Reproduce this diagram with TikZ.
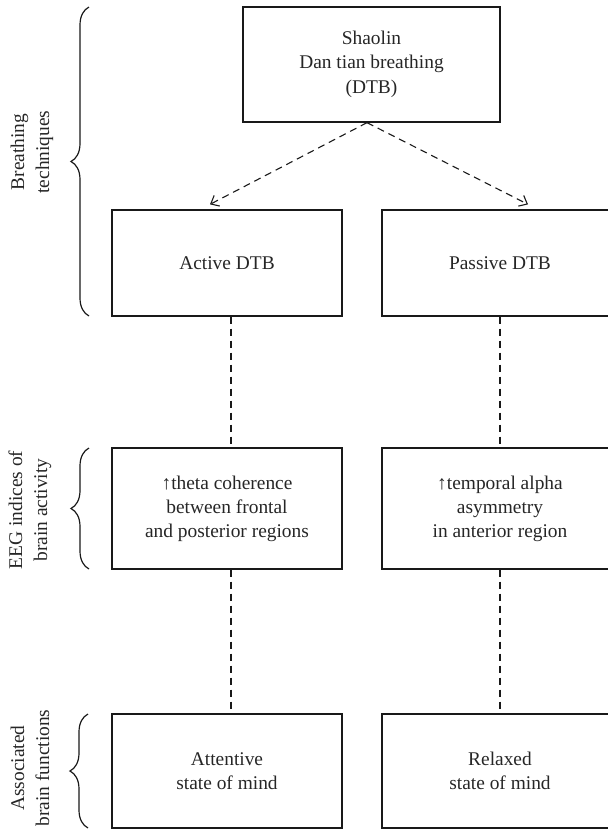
\documentclass[tikz,border=0pt]{standalone}
\usepackage{fontspec}
\setmainfont{Liberation Serif}
\usetikzlibrary{arrows.meta,decorations.pathreplacing}
\begin{document}
\begin{tikzpicture}[x=1pt,y=-1pt,
  box/.style={draw=black!90, line width=1.3pt, inner sep=0pt, align=center,
    font=\fontsize{19.4}{24}\selectfont, text=black!85},
  side/.style={rotate=90, align=center, inner sep=0pt,
    font=\fontsize{19.4}{25}\selectfont, text=black!85},
  conn/.style={draw=black!90, line width=1.1pt, dash pattern=on 7pt off 5pt},
  arr/.style={conn, -{Straight Barb[length=7pt,width=12pt,line width=1.1pt]}},
  brc/.style={draw=black!90, decorate, decoration={brace, amplitude=18pt}, line width=1.2pt},
  ]
\useasboundingbox (0,0) rectangle (608,836);

% boxes
\node[box, minimum width=257pt, minimum height=115pt] (top) at (371.5,64.5)
  {Shaolin\\Dan tian breathing\\[1pt](DTB)};
\node[box, minimum width=230pt, minimum height=106pt] (act) at (227,263) {Active DTB};
\node[box, minimum width=236pt, minimum height=106pt] (pas) at (500,263) {Passive DTB};
\node[box, minimum width=230pt, minimum height=121pt] (eegl) at (227,508.5)
  {↑theta coherence\\between frontal\\and posterior regions};
\node[box, minimum width=236pt, minimum height=121pt] (eegr) at (500,508.5)
  {↑temporal alpha\\asymmetry\\in anterior region};
\node[box, minimum width=230pt, minimum height=114pt] (fnl) at (227,771)
  {Attentive\\state of mind};
\node[box, minimum width=236pt, minimum height=114pt] (fnr) at (500,771)
  {Relaxed\\state of mind};

% arrows from top box
\coordinate (src) at ([xshift=-4.5pt]top.south);
\draw[arr] (src) -- ([xshift=-17pt,yshift=5pt]act.north);
\draw[arr] (src) -- ([xshift=28pt,yshift=5pt]pas.north);

% dashed vertical connectors
\draw[conn] ([xshift=4pt]act.south) -- ([xshift=4pt]eegl.north);
\draw[conn] ([xshift=4pt]eegl.south) -- ([xshift=4pt]fnl.north);
\draw[conn] (pas.south) -- (eegr.north);
\draw[conn] (eegr.south) -- (fnr.north);

% braces
\draw[brc] (89,316) -- (89,7);
\draw[brc] (89,569) -- (89,448);
\draw[brc] (88,828) -- (88,714);

% side labels
\node[side] (l1) at (32,152) {Breathing\\techniques};
\node[side] (l2) at (30,510) {EEG indices of\\brain activity};
\node[side] (l3) at (30,768) {Associated\\brain functions};
\end{tikzpicture}
\end{document}
